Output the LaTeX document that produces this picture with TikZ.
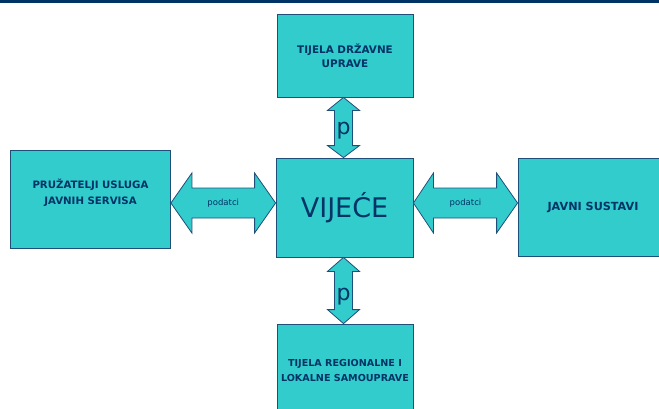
\documentclass[tikz,border=0pt]{standalone}
\usepackage{fontspec}
\setmainfont{DejaVu Sans}
\usetikzlibrary{calc}
\definecolor{boxfill}{HTML}{33CCCC}
\definecolor{edge}{HTML}{1F4E79}
\definecolor{ink}{HTML}{003366}
\begin{document}
\begin{tikzpicture}[x=1pt,y=-1pt,
  box/.style={draw=edge,fill=boxfill,line width=0.8pt,inner sep=0pt,align=center,text=ink,
    font=\bfseries\fontsize{10.4}{14.5}\selectfont},
  boxtext/.style={inner sep=0pt,align=center,text=ink,font=\bfseries\fontsize{10.2}{15.5}\selectfont},
  arr/.style={draw=edge,fill=boxfill,line width=0.8pt,line join=miter},
  lab/.style={text=ink,inner sep=0pt,font=\fontsize{8.5}{10}\selectfont},
  plab/.style={text=ink,inner sep=0pt,anchor=base,font=\fontsize{22}{24}\selectfont}]
\useasboundingbox (0,0) rectangle (659,408);
\fill[ink] (0,0) rectangle (659,2.5);
% boxes
\node[box,minimum width=160,minimum height=98] (L) at (90.5,199) {};
\node[boxtext] (Lt) at ($(L.center)+(0,-6)$) {PRUŽATELJI USLUGA\\JAVNIH SERVISA};
\node[box,minimum width=136,minimum height=83] (T) at (345,55.5) {TIJELA DRŽAVNE\\UPRAVE};
\node[box,minimum width=137,minimum height=99,font=\fontsize{27}{30}\selectfont] (C) at (344.5,207.5) {VIJEĆE};
\node[box,minimum width=150,minimum height=98,font=\bfseries\fontsize{11.2}{14}\selectfont] (R) at (593,207) {JAVNI SUSTAVI};
\node[box,minimum width=136,minimum height=92,font=\bfseries\fontsize{9.6}{15}\selectfont] (B) at (345,370) {TIJELA REGIONALNE I\\LOKALNE SAMOUPRAVE};
% horizontal arrows
\coordinate (a1) at (L.east |- 0,203);
\coordinate (a2) at (C.west |- 0,203);
\draw[arr] (a1) -- ($(a1)+(21,-30)$) -- ($(a1)+(21,-15)$) -- ($(a2)+(-21,-15)$) -- ($(a2)+(-21,-30)$)
  -- (a2) -- ($(a2)+(-21,30)$) -- ($(a2)+(-21,15)$) -- ($(a1)+(21,15)$) -- ($(a1)+(21,30)$) -- cycle;
\node[lab] (pl) at ($(a1)!0.5!(a2)$) {podatci};
\coordinate (b1) at (C.east |- 0,203);
\coordinate (b2) at (R.west |- 0,203);
\draw[arr] (b1) -- ($(b1)+(20,-30)$) -- ($(b1)+(20,-15)$) -- ($(b2)+(-21,-15)$) -- ($(b2)+(-21,-30)$)
  -- (b2) -- ($(b2)+(-21,30)$) -- ($(b2)+(-21,15)$) -- ($(b1)+(20,15)$) -- ($(b1)+(20,30)$) -- cycle;
\node[lab] (pr) at ($(b1)!0.5!(b2)$) {podatci};
% vertical arrows
\coordinate (c1) at (T.south -| 343.5,0);
\coordinate (c2) at (C.north -| 343.5,0);
\draw[arr] (c1) -- ($(c1)+(16,13)$) -- ($(c1)+(9,13)$) -- ($(c2)+(9,-12)$) -- ($(c2)+(16,-12)$)
  -- (c2) -- ($(c2)+(-16,-12)$) -- ($(c2)+(-9,-12)$) -- ($(c1)+(-9,13)$) -- ($(c1)+(-16,13)$) -- cycle;
\node[plab] (pt) at (343.5,134) {p};
\coordinate (d1) at (C.south -| 343.5,0);
\coordinate (d2) at (B.north -| 343.5,0);
\draw[arr] (d1) -- ($(d1)+(16,14)$) -- ($(d1)+(9,14)$) -- ($(d2)+(9,-14)$) -- ($(d2)+(16,-14)$)
  -- (d2) -- ($(d2)+(-16,-14)$) -- ($(d2)+(-9,-14)$) -- ($(d1)+(-9,14)$) -- ($(d1)+(-16,14)$) -- cycle;
\node[plab] (pb) at (343.5,300) {p};
\end{tikzpicture}
\end{document}
